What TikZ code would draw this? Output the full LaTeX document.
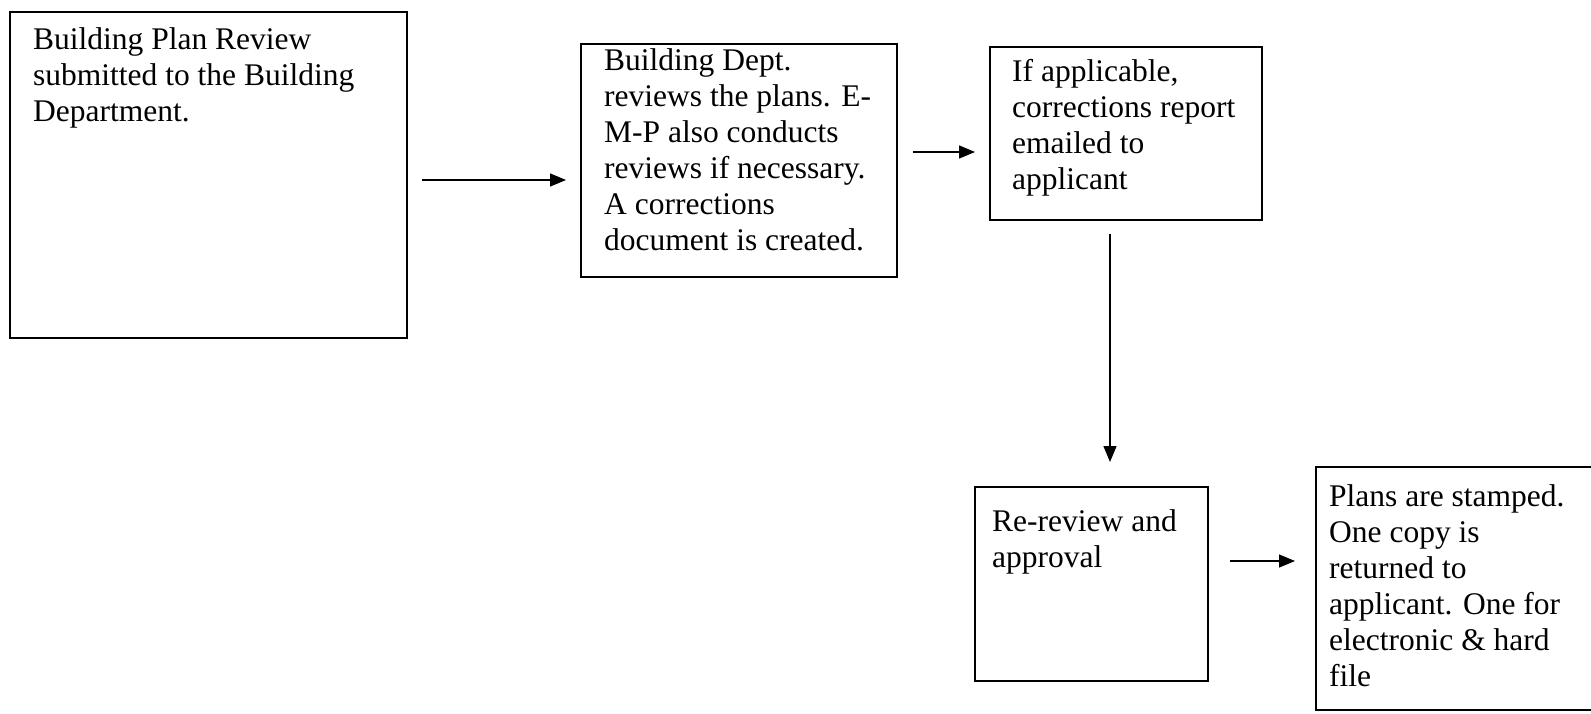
\documentclass[tikz,border=0pt]{standalone}
\usepackage{fontspec}
\setmainfont{Liberation Serif}
\usetikzlibrary{arrows.meta}
\begin{document}
\begin{tikzpicture}[x=1pt,y=-1pt,
  boxnode/.style={draw,line width=1.6pt,inner sep=0pt},
  txt/.style={anchor=north west,inner sep=0pt,align=left,font=\fontsize{31.5}{36}\selectfont},
  arr/.style={line width=1.4pt,-{Triangle[length=16pt,width=13pt]}}]
\useasboundingbox (0,0) rectangle (1591,714);
\clip (0,0) rectangle (1591,714);
\fill[white] (0,0) rectangle (1591,714);
% boxes
\node[boxnode,minimum width=397pt,minimum height=326pt] (b1) at (208.5,175) {};
\node[boxnode,minimum width=316pt,minimum height=233pt] (b2) at (739,160.5) {};
\node[boxnode,minimum width=272pt,minimum height=173pt] (b3) at (1126,133.5) {};
\node[boxnode,minimum width=233pt,minimum height=194pt] (b4) at (1091.5,584) {};
\node[boxnode,minimum width=277pt,minimum height=243pt] (b5) at (1454.5,588.5) {};
% texts
\node[txt] (t1) at (33,27) {Building Plan Review\\submitted to the Building\\Department.};
\node[txt] (t2) at (604,48) {Building Dept.\\reviews the plans. E-\\M-P also conducts\\reviews if necessary.\\A corrections\\document is created.};
\node[txt] (t3) at (1012,59) {If applicable,\\corrections report\\emailed to\\applicant};
\node[txt] (t4) at (992,509) {Re-review and\\approval};
\node[txt] (t5) at (1329,484) {Plans are stamped.\\One copy is\\returned to\\applicant. One for\\electronic \& hard\\file};
% connector ends
\coordinate (a1s) at (422,180); \coordinate (a1e) at (566,180);
\coordinate (a2s) at (913,152); \coordinate (a2e) at (975,152);
\coordinate (a3s) at (1110,234); \coordinate (a3e) at (1110,462);
\coordinate (a4s) at (1230,561); \coordinate (a4e) at (1295,561);
\draw[arr] (a1s) -- (a1e);
\draw[arr] (a2s) -- (a2e);
\draw[arr] (a3s) -- (a3e);
\draw[arr] (a4s) -- (a4e);
\end{tikzpicture}
\end{document}
